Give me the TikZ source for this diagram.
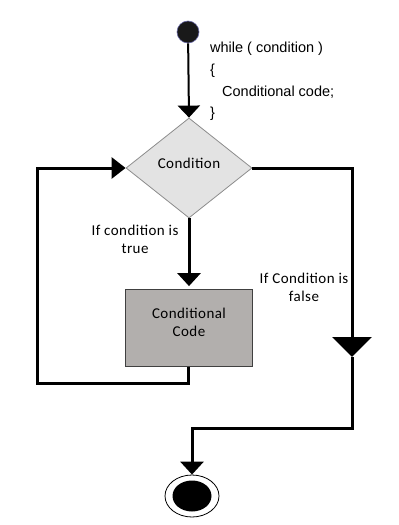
\documentclass[tikz,border=0pt]{standalone}
\usepackage{fontspec}
\setmainfont{Carlito}[LetterSpace=3]
\newfontfamily\codefont{Liberation Sans}
\usetikzlibrary{shapes.geometric,arrows.meta}
\definecolor{dia}{HTML}{E3E3E3}
\definecolor{diaedge}{HTML}{8C8C8C}
\definecolor{boxfill}{HTML}{B2AFAD}
\definecolor{boxedge}{HTML}{404040}
\begin{document}
\begin{tikzpicture}[x=1pt,y=-1pt,
  thickline/.style={line width=3pt, line join=miter},
  lbl/.style={font=\fontsize{15}{18}\selectfont, align=center, inner sep=0pt},
  code/.style={font=\codefont\fontsize{14.5}{17}\selectfont, anchor=base west, inner sep=0pt},
]
\useasboundingbox (0,0) rectangle (399,525);
% nodes
\node[circle, fill=black!90, draw=black!60!blue!60, line width=0.6pt, minimum size=22pt, inner sep=0pt] (start) at (188,32) {};
\node[diamond, aspect=1, inner sep=0pt, minimum width=126pt, minimum height=100pt, fill=dia, draw=diaedge, line width=0.8pt] (cond) at (189,168) {};
\node[lbl] (condtext) at (189,163) {Condition};
\node[rectangle, minimum width=127pt, minimum height=77pt, fill=boxfill, draw=boxedge, line width=0.8pt] (code) at (189,328) {};
\node[lbl] (codetext) at (189,322) {Conditional\\Code};
\node[ellipse, minimum width=54pt, minimum height=42pt, draw=black, line width=0.8pt, inner sep=0pt] (stop) at (192,496) {};
\node[ellipse, minimum width=39pt, minimum height=31pt, fill=black, inner sep=0pt] (stopin) at (stop.center) {};
% code text
\node[code] (c1) at (210,52) {while ( condition )};
\node[code] (c2) at (210,74) {\{};
\node[code] (c3) at (222,96) {Conditional code;};
\node[code] (c4) at (210,117) {\}};
% labels
\node[lbl] (ltrue) at (135,239) {If condition is\\true};
\node[lbl] (lfalse) at (304,287) {If Condition is\\false};
% coordinates
\coordinate (lb) at (188,383);
\coordinate (ll) at (37,383);
\coordinate (lt) at (37,168);
\coordinate (rt) at (352,168);
\coordinate (rm) at (352,357);
\coordinate (rb) at (352,428);
\coordinate (bl) at (192,428);
% connectors
\draw[line width=2pt, -{Triangle[length=12pt,width=22pt]}] (start) -- (cond.north);
\draw[thickline, -{Triangle[length=13pt,width=23pt]}, shorten >=3pt] (cond.south) -- (code.north);
\draw[thickline, -{Triangle[length=14pt,width=21pt]}] (code.south -| lb) -- (lb) -- (ll) -- (lt) -- (cond.west);
\draw[thickline, -{Triangle[length=20pt,width=39pt]}] (cond.east) -- (rt) -- (rm);
\draw[thickline, -{Triangle[length=13pt,width=23pt]}] (rm) -- (rb) -- (bl) -- (stop.north);
\end{tikzpicture}
\end{document}
